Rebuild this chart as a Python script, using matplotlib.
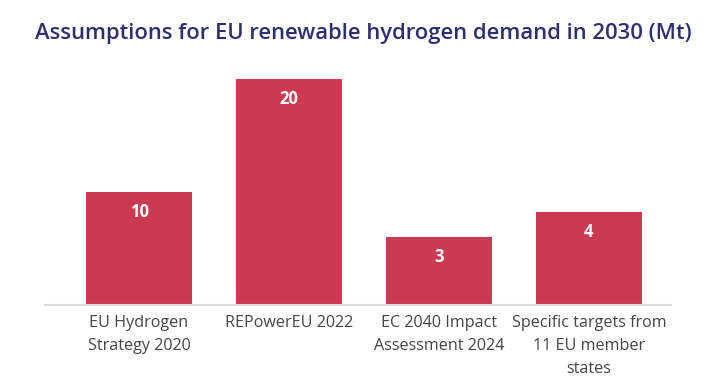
import matplotlib
matplotlib.use('Agg')
import matplotlib.pyplot as plt

plt.rcParams['font.family'] = ['Open Sans', 'DejaVu Sans']

# data
categories = ['EU Hydrogen\nStrategy 2020', 'REPowerEU 2022',
              'EC 2040 Impact\nAssessment 2024',
              'Specific targets from\n11 EU member\nstates']
heights = [10, 20, 6, 8.2]          # bar heights as drawn
labels = ['10', '20', '3', '4']     # values printed on the bars

fig = plt.figure(figsize=(7.26, 3.85), dpi=100)
ax = fig.add_axes([45 / 726, 80 / 385, 626 / 726, 237 / 385])

x = range(len(categories))
bars = ax.bar(x, heights, width=0.707, color='#cc3a52')

for b, lab in zip(bars, labels):
    ax.annotate(lab, (b.get_x() + b.get_width() / 2, b.get_height()),
                xytext=(0, -14), textcoords='offset points',
                ha='center', va='center', color='white',
                fontsize=12, fontweight='bold')

ax.set_xlim(-0.627, 3.547)
ax.set_ylim(0, 21)
ax.set_xticks(list(x))
ax.set_xticklabels(categories, fontsize=11.6, color='#454545', linespacing=1.6,
                   va='top')
ax.tick_params(axis='x', length=0, pad=7)
ax.set_yticks([])
for s in ['top', 'right', 'left']:
    ax.spines[s].set_visible(False)
ax.spines['bottom'].set_color('#d9d9d9')
ax.spines['bottom'].set_linewidth(1.5)

fig.text(0.5, 1 - 33 / 385, 'Assumptions for EU renewable hydrogen demand in 2030 (Mt)',
         ha='center', va='center', fontsize=15.8, fontweight='semibold', color='#2e2f6e')

fig.savefig('out.png', dpi=100)
